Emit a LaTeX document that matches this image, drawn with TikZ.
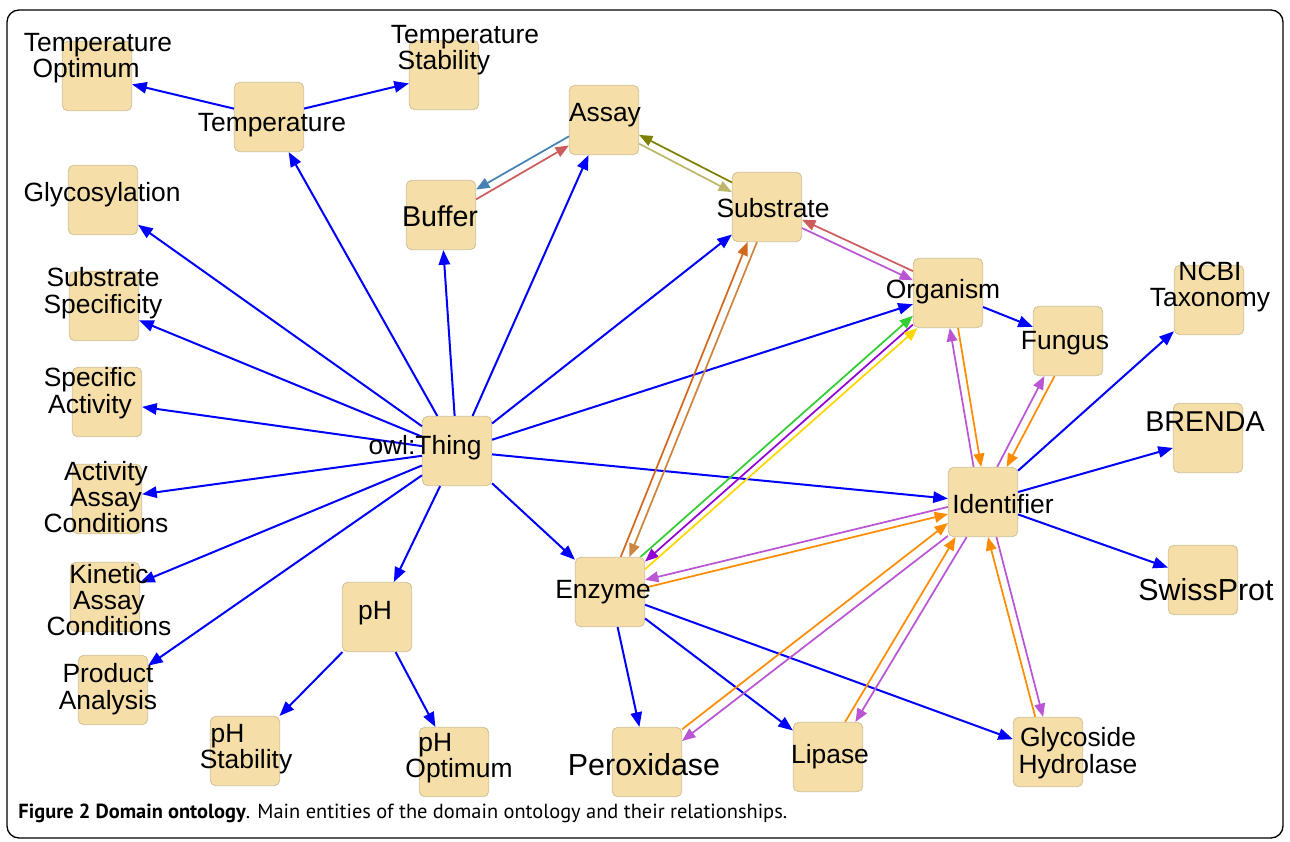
\documentclass[tikz,border=0pt]{standalone}
\usepackage{fontspec}
\setmainfont{Liberation Sans}
\newfontfamily\capfont{PT Sans}
\usetikzlibrary{arrows.meta,calc}

\definecolor{boxfill}{RGB}{245,222,168}
\definecolor{boxline}{RGB}{208,192,150}
\definecolor{isablue}{RGB}{0,0,255}
\definecolor{steel}{RGB}{70,130,180}
\definecolor{indred}{RGB}{205,92,92}
\definecolor{olivec}{RGB}{128,128,0}
\definecolor{khaki}{RGB}{189,183,107}
\definecolor{choc}{RGB}{210,105,30}
\definecolor{peruc}{RGB}{205,133,63}
\definecolor{lime}{RGB}{50,205,50}
\definecolor{violet}{RGB}{148,0,211}
\definecolor{goldc}{RGB}{255,215,0}
\definecolor{orchid}{RGB}{186,85,211}
\definecolor{orangec}{RGB}{255,140,0}

\tikzset{every picture/.style={line width=0.75pt}}
\tikzset{
  box/.style={draw=boxline, fill=boxfill, rounded corners=4pt, minimum width=52pt, minimum height=52pt, inner sep=0pt, line width=0.6pt},
  lbl/.style={align=center, inner sep=0pt, font=\fontsize{19.8}{19.8}\selectfont},
  midlbl/.style={align=center, inner sep=0pt, font=\fontsize{21.5}{22}\selectfont},
  biglbl/.style={align=center, inner sep=0pt, font=\fontsize{22.8}{23}\selectfont},
  isa/.style={draw=isablue, line width=1.5pt, -{Triangle[length=11pt,width=8.5pt]}},
  link/.style={draw=#1, line width=1.3pt, -{Triangle[length=10pt,width=8pt]}},
}

% directed link beside its twin: #4 = side angle (positive = right of travel)
\newcommand\rel[4]{%
  \draw[#1] let \p1=($(#3)-(#2)$), \n1={atan2(-\y1,\x1)-(#4)}, \n2={atan2(-\y1,\x1)+180+(#4)} in (#2.\n1) -- (#3.\n2);
}

\begin{document}
\begin{tikzpicture}[x=0.75pt,y=0.75pt,yscale=-1,xscale=1]
\useasboundingbox (0,0) rectangle (1290,842);

%Frame
\draw [line width=1pt, rounded corners=9pt] (7,10) rectangle (1283,838) ;

%Boxes
\node [box] (tempopt) at (97,76) {};
\node [box] (temp) at (269,117) {};
\node [box] (tempstab) at (444,75) {};
\node [box] (assay) at (604,120) {};
\node [box] (glyco) at (103,200) {};
\node [box] (buffer) at (441,215) {};
\node [box] (substrate) at (767,207) {};
\node [box] (organism) at (948,293) {};
\node [box] (ncbi) at (1209,300) {};
\node [box] (fungus) at (1068,341) {};
\node [box] (subspec) at (104,306) {};
\node [box] (specact) at (107,402) {};
\node [box] (thing) at (457,451) {};
\node [box] (brenda) at (1208,438) {};
\node [box] (ident) at (983,502) {};
\node [box] (actassay) at (107,499) {};
\node [box] (enzyme) at (610,592) {};
\node [box] (swiss) at (1203,580) {};
\node [box] (kinassay) at (105,597) {};
\node [box] (ph) at (377,617) {};
\node [box] (product) at (113,690) {};
\node [box] (phstab) at (245,751) {};
\node [box] (phopt) at (454,762) {};
\node [box] (perox) at (647,762) {};
\node [box] (lipase) at (828,757) {};
\node [box] (glycoh) at (1048,752) {};

%Subclass links
\draw [isa] (thing) -- (temp) ;
\draw [isa] (thing) -- (glyco) ;
\draw [isa] (thing) -- (subspec) ;
\draw [isa] (thing) -- (specact) ;
\draw [isa] (thing) -- (actassay) ;
\draw [isa] (thing) -- (kinassay) ;
\draw [isa] (thing) -- (product) ;
\draw [isa] (thing) -- (ph) ;
\draw [isa] (thing) -- (enzyme) ;
\draw [isa] (thing) -- (ident) ;
\draw [isa] (thing) -- (organism) ;
\draw [isa] (thing) -- (substrate) ;
\draw [isa] (thing) -- (assay) ;
\draw [isa] (thing) -- (buffer) ;
\draw [isa] (temp) -- (tempopt) ;
\draw [isa] (temp) -- (tempstab) ;
\draw [isa] (ph) -- (phstab) ;
\draw [isa] (ph) -- (phopt) ;
\draw [isa] (enzyme) -- (perox) ;
\draw [isa] (enzyme) -- (lipase) ;
\draw [isa] (enzyme) -- (glycoh) ;
\draw [isa] (organism) -- (fungus) ;
\draw [isa] (ident) -- (ncbi) ;
\draw [isa] (ident) -- (brenda) ;
\draw [isa] (ident) -- (swiss) ;

%Property links
\rel{link=indred}{buffer}{assay}{6}
\rel{link=steel}{assay}{buffer}{6}
\rel{link=olivec}{substrate}{assay}{6}
\rel{link=khaki}{assay}{substrate}{6}
\rel{link=indred}{organism}{substrate}{6}
\rel{link=orchid}{substrate}{organism}{6}
\rel{link=choc}{enzyme}{substrate}{-6}
\rel{link=peruc}{substrate}{enzyme}{-6}
\rel{link=lime}{enzyme}{organism}{-8}
\rel{link=violet}{organism}{enzyme}{0}
\rel{link=goldc}{enzyme}{organism}{8}
\rel{link=orchid}{ident}{organism}{-6}
\rel{link=orangec}{organism}{ident}{-6}
\rel{link=orchid}{ident}{fungus}{-6}
\rel{link=orangec}{fungus}{ident}{-6}
\rel{link=orchid}{ident}{enzyme}{6}
\rel{link=orangec}{enzyme}{ident}{6}
\rel{link=orchid}{ident}{perox}{-6}
\rel{link=orangec}{perox}{ident}{-6}
\rel{link=orchid}{ident}{lipase}{-6}
\rel{link=orangec}{lipase}{ident}{-6}
\rel{link=orchid}{ident}{glycoh}{-6}
\rel{link=orangec}{glycoh}{ident}{-6}

% Text Node
\node [lbl] (tempopt-l) at (98,58) {Temperature\\Optimum\hspace*{0.9em}};
\node [lbl] (temp-l) at (272,125) {Temperature};
\node [lbl] (tempstab-l) at (465,50) {Temperature\\Stability\hspace*{1.6em}};
\node [lbl] (assay-l) at (605,115) {Assay};
\node [lbl] (glyco-l) at (102,195) {Glycosylation};
\node [midlbl] (buffer-l) at (440,216) {Buffer};
\node [lbl] (substrate-l) at (773,208) {Substrate};
\node [lbl] (organism-l) at (943,292) {Organism};
\node [lbl] (ncbi-l) at (1210,287) {NCBI\\Taxonomy};
\node [lbl] (fungus-l) at (1065,343) {Fungus};
\node [lbl] (subspec-l) at (103,293) {Substrate\\Specificity};
\node [lbl] (specact-l) at (90,393) {Specific\\Activity};
\node [lbl] (thing-l) at (425,448) {owl:Thing};
\node [midlbl] (brenda-l) at (1205,422) {BRENDA};
\node [lbl] (ident-l) at (1003,504) {Identifier};
\node [lbl] (actassay-l) at (106,497) {Activity\\Assay\\Conditions};
\node [lbl] (enzyme-l) at (603,592) {Enzyme};
\node [biglbl] (swiss-l) at (1206,590) {SwissProt};
\node [lbl] (kinassay-l) at (109,600) {Kinetic\\Assay\\Conditions};
\node [lbl] (ph-l) at (375,613) {pH};
\node [lbl] (product-l) at (108,689) {Product\\Analysis};
\node [lbl] (phstab-l) at (246,749) {pH\hspace*{1.4em}\\Stability};
\node [lbl] (phopt-l) at (459,758) {pH\hspace*{1.8em}\\Optimum};
\node [biglbl] (perox-l) at (644,765) {Peroxidase};
\node [lbl] (lipase-l) at (830,757) {Lipase};
\node [lbl] (glycoh-l) at (1078,753) {Glycoside\\Hydrolase};

% Caption
\node [anchor=base west, inner sep=0pt, font=\capfont\fontsize{15.3}{15.3}\selectfont] (caption) at (18,818) {\textbf{Figure 2 Domain ontology}. Main entities of the domain ontology and their relationships.};

\end{tikzpicture}
\end{document}
